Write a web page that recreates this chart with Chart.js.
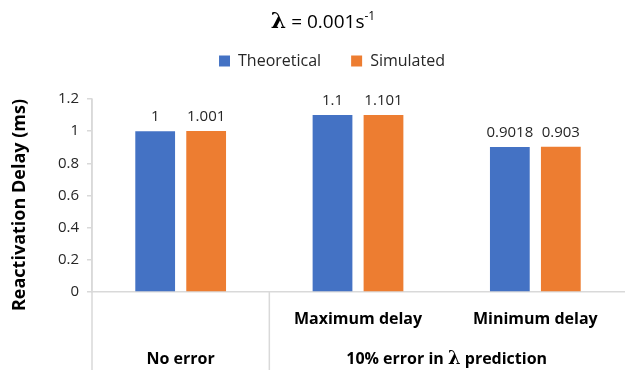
<!DOCTYPE html>
<html>
<head>
<meta charset="utf-8">
<script src="https://cdn.jsdelivr.net/npm/chart.js@4.4.0/dist/chart.umd.min.js"></script>
<style>
  body { margin: 0; background: #fff; }
  #wrap { width: 627px; height: 370px; position: relative; }
</style>
</head>
<body>
<div id="wrap"><canvas id="chart"></canvas></div>
<script>
// chart data
const categories = ["No error", "Maximum delay", "Minimum delay"];
const tickLabels = ["", "Maximum delay", "Minimum delay"];
const groupLabels = [
  { text: "No error", from: 0, to: 0 },
  { text: "10% error in λ prediction", from: 1, to: 2 }
];
const theoretical = [1, 1.1, 0.9018];
const simulated = [1.001, 1.101, 0.903];
const seriesNames = ["Theoretical", "Simulated"];
const yTicks = [0, 0.2, 0.4, 0.6, 0.8, 1, 1.2];
const yTitle = "Reactivation Delay (ms)";

const FONT = "'Open Sans', sans-serif";
const AXIS_COLOR = "#D9D9D9";

// pad the legend and nudge it right, like the original layout
const legendSpacing = {
  id: "legendSpacing",
  beforeInit(chart) {
    const fit = chart.legend.fit;
    chart.legend.fit = function () {
      fit.call(this);
      this.height += 20;
    };
  },
  afterLayout(chart) {
    chart.legend.left += 40;
  }
};

// title with bold lambda and superscript, plus y axis title
const titlePlugin = {
  id: "titleText",
  afterDraw(chart) {
    const ctx = chart.ctx;
    ctx.save();
    ctx.textBaseline = "alphabetic";
    ctx.fillStyle = "#000";
    const parts = [
      { t: "λ", f: "bold 22px 'DejaVu Serif', serif", dy: 0 },
      { t: " = 0.001s", f: "19px " + FONT, dy: 0 },
      { t: "-1", f: "12px " + FONT, dy: -8 }
    ];
    let total = 0;
    parts.forEach(p => { ctx.font = p.f; p.w = ctx.measureText(p.t).width; total += p.w; });
    let x = 323 - total / 2;
    parts.forEach(p => {
      ctx.font = p.f;
      ctx.textAlign = "left";
      ctx.fillText(p.t, x, 28 + p.dy);
      x += p.w;
    });

    ctx.translate(20, 205);
    ctx.rotate(-Math.PI / 2);
    ctx.font = "bold 18px " + FONT;
    ctx.textAlign = "center";
    ctx.textBaseline = "middle";
    ctx.fillText(yTitle, 0, 0);
    ctx.restore();
  }
};

// value labels above bars
const valueLabels = {
  id: "valueLabels",
  afterDatasetsDraw(chart) {
    const ctx = chart.ctx;
    ctx.save();
    ctx.font = "15px " + FONT;
    ctx.fillStyle = "#262626";
    ctx.textAlign = "center";
    ctx.textBaseline = "bottom";
    chart.data.datasets.forEach((ds, i) => {
      chart.getDatasetMeta(i).data.forEach((bar, j) => {
        ctx.fillText(String(ds.data[j]), bar.x, bar.y - 7);
      });
    });
    ctx.restore();
  }
};

// multi-level category axis: separators and group labels
const groupAxis = {
  id: "groupAxis",
  afterDraw(chart) {
    const ctx = chart.ctx;
    const x = chart.scales.x;
    const area = chart.chartArea;
    const half = (x.getPixelForValue(1) - x.getPixelForValue(0)) / 2;
    ctx.save();
    ctx.strokeStyle = AXIS_COLOR;
    ctx.lineWidth = 1.5;
    ctx.beginPath();
    ctx.moveTo(area.left, area.top);
    ctx.lineTo(area.left, chart.height);
    const sep = x.getPixelForValue(0) + half;
    ctx.moveTo(sep, area.bottom);
    ctx.lineTo(sep, chart.height);
    ctx.stroke();

    ctx.fillStyle = "#000";
    ctx.textBaseline = "alphabetic";
    groupLabels.forEach(g => {
      const cx = (x.getPixelForValue(g.from) + x.getPixelForValue(g.to)) / 2;
      const bits = g.text.split("λ");
      const pieces = [];
      bits.forEach((b, k) => {
        pieces.push({ t: b, f: "bold 16px " + FONT });
        if (k < bits.length - 1) pieces.push({ t: "λ", f: "bold 18px 'DejaVu Serif', serif" });
      });
      let w = 0;
      pieces.forEach(p => { ctx.font = p.f; p.w = ctx.measureText(p.t).width; w += p.w; });
      let px = cx - w / 2;
      pieces.forEach(p => {
        ctx.font = p.f;
        ctx.textAlign = "left";
        ctx.fillText(p.t, px, 364);
        px += p.w;
      });
    });
    ctx.restore();
  }
};

new Chart(document.getElementById("chart"), {
  type: "bar",
  data: {
    labels: tickLabels,
    datasets: [
      { label: seriesNames[0], data: theoretical, backgroundColor: "#4472C4", categoryPercentage: 0.575, barPercentage: 0.78 },
      { label: seriesNames[1], data: simulated, backgroundColor: "#ED7D31", categoryPercentage: 0.575, barPercentage: 0.78 }
    ]
  },
  options: {
    responsive: true,
    maintainAspectRatio: false,
    animation: false,
    layout: { padding: { top: 23, right: 3 } },
    scales: {
      x: {
        grid: { display: false },
        border: { color: AXIS_COLOR, width: 1.5 },
        ticks: { color: "#000", font: { family: FONT, size: 16, weight: "bold" }, padding: 10, maxRotation: 0 },
        afterFit(scale) { scale.height = 78; }
      },
      y: {
        min: 0,
        max: 1.2,
        afterBuildTicks(scale) { scale.ticks = yTicks.map(v => ({ value: v })); },
        grid: { drawOnChartArea: false, color: AXIS_COLOR, tickLength: 5, lineWidth: 1.5 },
        border: { color: AXIS_COLOR, width: 1.5 },
        ticks: { color: "#262626", font: { family: FONT, size: 15 }, padding: 8, callback: v => String(v) },
        afterFit(scale) { scale.width = 92; }
      }
    },
    plugins: {
      legend: {
        position: "top",
        labels: { boxWidth: 11, boxHeight: 11, color: "#262626", font: { family: FONT, size: 16 }, padding: 30 }
      },
      title: { display: false },
      tooltip: { enabled: false }
    }
  },
  plugins: [legendSpacing, titlePlugin, valueLabels, groupAxis]
});
</script>
</body>
</html>
